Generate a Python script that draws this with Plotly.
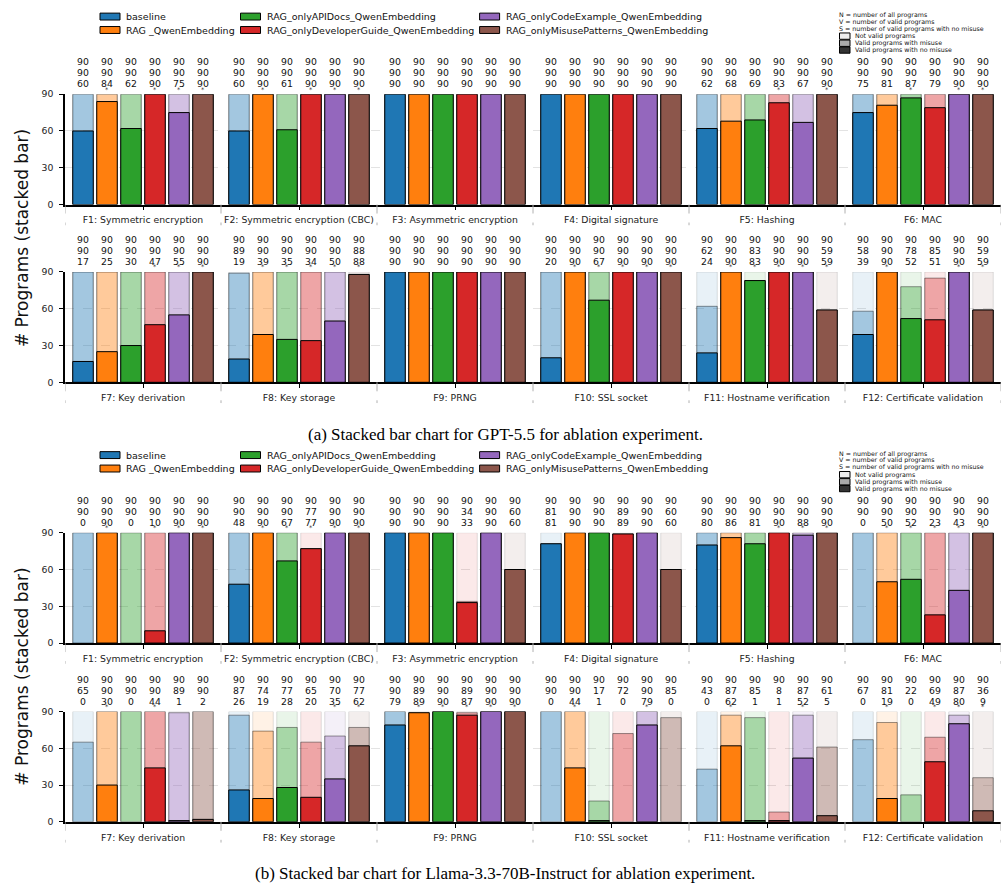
import plotly.graph_objects as go

# ---------------- data ----------------
methods = ["baseline", "RAG _QwenEmbedding", "RAG_onlyAPIDocs_QwenEmbedding",
           "RAG_onlyDeveloperGuide_QwenEmbedding", "RAG_onlyCodeExample_QwenEmbedding",
           "RAG_onlyMisusePatterns_QwenEmbedding"]
method_colors = ["#1f77b4", "#ff7f0e", "#2ca02c", "#d62728", "#9467bd", "#8c564b"]
features = ["F1: Symmetric encryption", "F2: Symmetric encryption (CBC)", "F3: Asymmetric encryption",
            "F4: Digital signature", "F5: Hashing", "F6: MAC",
            "F7: Key derivation", "F8: Key storage", "F9: PRNG",
            "F10: SSL socket", "F11: Hostname verification", "F12: Certificate validation"]
y_ticks = [0, 30, 60, 90]

# GPT-5.5  (N = all programs, V = valid programs, S = valid with no misuse)
gpt_N = [[90, 90, 90, 90, 90, 90], [90, 90, 90, 90, 90, 90], [90, 90, 90, 90, 90, 90],
         [90, 90, 90, 90, 90, 90], [90, 90, 90, 90, 90, 90], [90, 90, 90, 90, 90, 90],
         [90, 90, 90, 90, 90, 90], [90, 90, 90, 90, 90, 90], [90, 90, 90, 90, 90, 90],
         [90, 90, 90, 90, 90, 90], [90, 90, 90, 90, 90, 90], [90, 90, 90, 90, 90, 90]]
gpt_V = [[90, 90, 90, 90, 90, 90], [90, 90, 90, 90, 90, 90], [90, 90, 90, 90, 90, 90],
         [90, 90, 90, 90, 90, 90], [90, 90, 90, 90, 90, 90], [90, 90, 90, 90, 90, 90],
         [90, 90, 90, 90, 90, 90], [89, 90, 90, 90, 90, 88], [90, 90, 90, 90, 90, 90],
         [90, 90, 90, 90, 90, 90], [62, 90, 83, 90, 90, 59], [58, 90, 78, 85, 90, 59]]
gpt_S = [[60, 84, 62, 90, 75, 90], [60, 90, 61, 90, 90, 90], [90, 90, 90, 90, 90, 90],
         [90, 90, 90, 90, 90, 90], [62, 68, 69, 83, 67, 90], [75, 81, 87, 79, 90, 90],
         [17, 25, 30, 47, 55, 90], [19, 39, 35, 34, 50, 88], [90, 90, 90, 90, 90, 90],
         [20, 90, 67, 90, 90, 90], [24, 90, 83, 90, 90, 59], [39, 90, 52, 51, 90, 59]]
gpt_star = [[0, 1, 0, 1, 1, 1], [0, 1, 0, 1, 1, 1], [0, 0, 0, 0, 0, 0],
            [0, 0, 0, 0, 0, 0], [0, 0, 0, 1, 0, 1], [0, 0, 1, 0, 1, 1],
            [0, 0, 0, 1, 1, 1], [0, 1, 1, 1, 1, 1], [0, 0, 0, 0, 0, 0],
            [0, 1, 1, 1, 1, 1], [0, 1, 1, 1, 1, 1], [0, 1, 0, 0, 1, 1]]

# Llama-3.3-70B-Instruct
llama_N = [[90, 90, 90, 90, 90, 90], [90, 90, 90, 90, 90, 90], [90, 90, 90, 90, 90, 90],
           [90, 90, 90, 90, 90, 90], [90, 90, 90, 90, 90, 90], [90, 90, 90, 90, 90, 90],
           [90, 90, 90, 90, 90, 90], [90, 90, 90, 90, 90, 90], [90, 90, 90, 90, 90, 90],
           [90, 90, 90, 90, 90, 90], [90, 90, 90, 90, 90, 90], [90, 90, 90, 90, 90, 90]]
llama_V = [[90, 90, 90, 90, 90, 90], [90, 90, 90, 77, 90, 90], [90, 90, 90, 34, 90, 60],
           [81, 90, 90, 89, 90, 60], [90, 90, 90, 90, 90, 90], [90, 90, 90, 90, 90, 90],
           [65, 90, 90, 90, 89, 90], [87, 74, 77, 65, 70, 77], [90, 89, 90, 89, 90, 90],
           [90, 90, 17, 72, 90, 85], [43, 87, 85, 8, 87, 61], [67, 81, 22, 69, 87, 36]]
llama_S = [[0, 90, 0, 10, 90, 90], [48, 90, 67, 77, 90, 90], [90, 90, 90, 33, 90, 60],
           [81, 90, 90, 89, 90, 60], [80, 86, 81, 90, 88, 90], [0, 50, 52, 23, 43, 90],
           [0, 30, 0, 44, 1, 2], [26, 19, 28, 20, 35, 62], [79, 89, 90, 87, 90, 90],
           [0, 44, 1, 0, 79, 0], [0, 62, 1, 1, 52, 5], [0, 19, 0, 49, 80, 9]]
llama_star = [[0, 1, 0, 1, 1, 1], [0, 1, 1, 1, 1, 1], [0, 0, 0, 0, 0, 0],
              [0, 0, 0, 0, 0, 0], [0, 0, 0, 1, 1, 1], [0, 1, 1, 1, 1, 1],
              [0, 1, 0, 1, 0, 0], [0, 0, 0, 0, 1, 1], [0, 1, 1, 1, 1, 1],
              [0, 1, 0, 0, 1, 0], [0, 1, 0, 0, 1, 0], [0, 1, 0, 1, 1, 1]]

captions = ["(a) Stacked bar chart for GPT-5.5 for ablation experiment.",
            "(b) Stacked bar chart for Llama-3.3-70B-Instruct for ablation experiment."]
info_lines = ["N = number of all programs", "V = number of valid programs",
              "S = number of valid programs with no misuse"]
layer_labels = ["Not valid programs", "Valid programs with misuse", "Valid programs with no misuse"]
layer_swatch = ["#eeeeee", "#aaaaaa", "#333333"]

# ---------------- layout helpers ----------------
W, H = 1008, 893
FONT = "DejaVu Sans, Arial, sans-serif"
GROUP = 6.5
BAR_W = 0.854


def px(x):
    return x / W


def py(y):
    return 1 - y / H


def rgba(hexc, a):
    h = hexc.lstrip("#")
    r, g, b = int(h[0:2], 16), int(h[2:4], 16), int(h[4:6], 16)
    return f"rgba({r},{g},{b},{a})"


fig = go.Figure()
annotations = []
shapes = []

# panels: (N, V, S, star, feature offset, top px, bottom px)
panels = [
    (gpt_N, gpt_V, gpt_S, gpt_star, 0, 89.3, 201.0),
    (gpt_N, gpt_V, gpt_S, gpt_star, 6, 269.3, 381.0),
    (llama_N, llama_V, llama_S, llama_star, 0, 533.3, 645.0),
    (llama_N, llama_V, llama_S, llama_star, 6, 714.3, 826.0),
]

x_dom = [px(65), px(1001)]
for k, (Nd, Vd, Sd, Std, off, top, bot) in enumerate(panels, start=1):
    xa = "x" if k == 1 else f"x{k}"
    ya = "y" if k == 1 else f"y{k}"
    xs, Ns, Vs, Ss, stars, cols = [], [], [], [], [], []
    for g in range(6):
        for i in range(6):
            xs.append(g * GROUP + (i - 2.5))
            Ns.append(Nd[off + g][i])
            Vs.append(Vd[off + g][i])
            Ss.append(Sd[off + g][i])
            stars.append(Std[off + g][i])
            cols.append(method_colors[i])
    for vals, a, la in [(Ns, 0.10, 0.12), (Vs, 0.345, 0.4), (Ss, 1.0, 1.0)]:
        fig.add_trace(go.Bar(
            x=xs, y=[v if v > 0 else None for v in vals], width=BAR_W,
            xaxis=xa, yaxis=ya, showlegend=False, hoverinfo="skip",
            marker=dict(color=[rgba(c, a) for c in cols],
                        line=dict(color=f"rgba(0,0,0,{la})", width=1)),
        ))
    # value labels (N, V, S stacked above each bar) and significance stars
    for x, n, v, s, st in zip(xs, Ns, Vs, Ss, stars):
        for txt, sh in [(n, 32.5), (v, 21.5), (s, 10.5)]:
            annotations.append(dict(x=x, y=90, xref=xa, yref=ya, text=str(txt), showarrow=False,
                                    yanchor="middle", xanchor="center", yshift=sh,
                                    font=dict(family=FONT, size=9.3, color="#111")))
        if st:
            annotations.append(dict(x=x, y=90, xref=xa, yref=ya, text="*", showarrow=False,
                                    yanchor="bottom", xanchor="center", yshift=-1.5,
                                    font=dict(family=FONT, size=6.5, color="#222")))
    # group separators (dashed)
    for b in range(7):
        xb = b * GROUP - GROUP / 2
        shapes.append(dict(type="line", xref=xa, yref=f"{ya} domain", x0=xb, x1=xb, y0=0,
                           y1=-21 / (bot - top), line=dict(color="#b0b0b0", width=1, dash="dash")))
    centers = [g * GROUP for g in range(6)]
    fig.update_layout(**{
        ("xaxis" if k == 1 else f"xaxis{k}"): dict(
            domain=x_dom, range=[-GROUP / 2, 5 * GROUP + GROUP / 2], anchor=ya,
            showline=True, linecolor="black", linewidth=1.5, showgrid=False, zeroline=False,
            tickmode="array", tickvals=centers, ticktext=features[off:off + 6],
            ticks="outside", ticklen=4, tickwidth=1, tickcolor="black",
            ticklabelstandoff=2,
            tickfont=dict(family=FONT, size=9.3, color="#222")),
        ("yaxis" if k == 1 else f"yaxis{k}"): dict(
            domain=[py(bot), py(top)], range=[0, 90], anchor=xa,
            showline=True, linecolor="black", linewidth=1.5, zeroline=False,
            tickmode="array", tickvals=y_ticks, ticks="outside", ticklen=4, tickwidth=1,
            tickcolor="black", ticklabelstandoff=4,
            showgrid=True, gridcolor="#e3e3e3", griddash="dash", gridwidth=0.8,
            tickfont=dict(family=FONT, size=9.3, color="#222")),
    })

# ---------------- legends, titles, captions ----------------
for fi, dy in enumerate([0, 444]):
    # y-axis title spanning both rows of the figure
    annotations.append(dict(x=px(22), y=py(235 + dy), xref="paper", yref="paper",
                            text="# Programs (stacked bar)", textangle=-90, showarrow=False,
                            xanchor="center", yanchor="middle",
                            font=dict(family=FONT, size=17, color="#111")))
    # caption
    annotations.append(dict(x=px(505), y=py(434 + dy), xref="paper", yref="paper",
                            text=captions[fi], showarrow=False, xanchor="center", yanchor="middle",
                            font=dict(family="Liberation Serif, Times New Roman, serif", size=17,
                                      color="black")))
    # method legend (3 columns x 2 rows)
    col_x = [100, 240.5, 479.6]
    row_y = [10.7, 24.3]
    for m in range(6):
        cx = col_x[m // 2]
        ry = row_y[m % 2] + dy
        shapes.append(dict(type="rect", xref="paper", yref="paper",
                           x0=px(cx), x1=px(cx + 20), y0=py(ry + 3.5), y1=py(ry - 3.5),
                           fillcolor=method_colors[m], line=dict(color="black", width=1)))
        annotations.append(dict(x=px(cx + 24), y=py(ry), xref="paper", yref="paper",
                                text=methods[m], showarrow=False, xanchor="left", yanchor="middle",
                                font=dict(family=FONT, size=9.5, color="#111")))
    # N/V/S legend
    for j, t in enumerate(info_lines):
        annotations.append(dict(x=px(837), y=py([9.3, 16.0, 23.0][j] + dy), xref="paper", yref="paper",
                                text=t, showarrow=False, xanchor="left", yanchor="middle",
                                font=dict(family=FONT, size=6.3, color="#111")))
    for j, t in enumerate(layer_labels):
        ry = [30.5, 37.7, 44.6][j] + dy
        shapes.append(dict(type="rect", xref="paper", yref="paper",
                           x0=px(839.5), x1=px(850), y0=py(ry + 3.2), y1=py(ry - 3.2),
                           fillcolor=layer_swatch[j], line=dict(color="black", width=1)))
        annotations.append(dict(x=px(852.5), y=py(ry), xref="paper", yref="paper",
                                text=t, showarrow=False, xanchor="left", yanchor="middle",
                                font=dict(family=FONT, size=6.3, color="#111")))

fig.update_layout(
    width=W, height=H, margin=dict(l=0, r=0, t=0, b=0),
    paper_bgcolor="white", plot_bgcolor="white",
    barmode="overlay", showlegend=False,
    annotations=annotations, shapes=shapes,
)

fig.write_html("out.html")
